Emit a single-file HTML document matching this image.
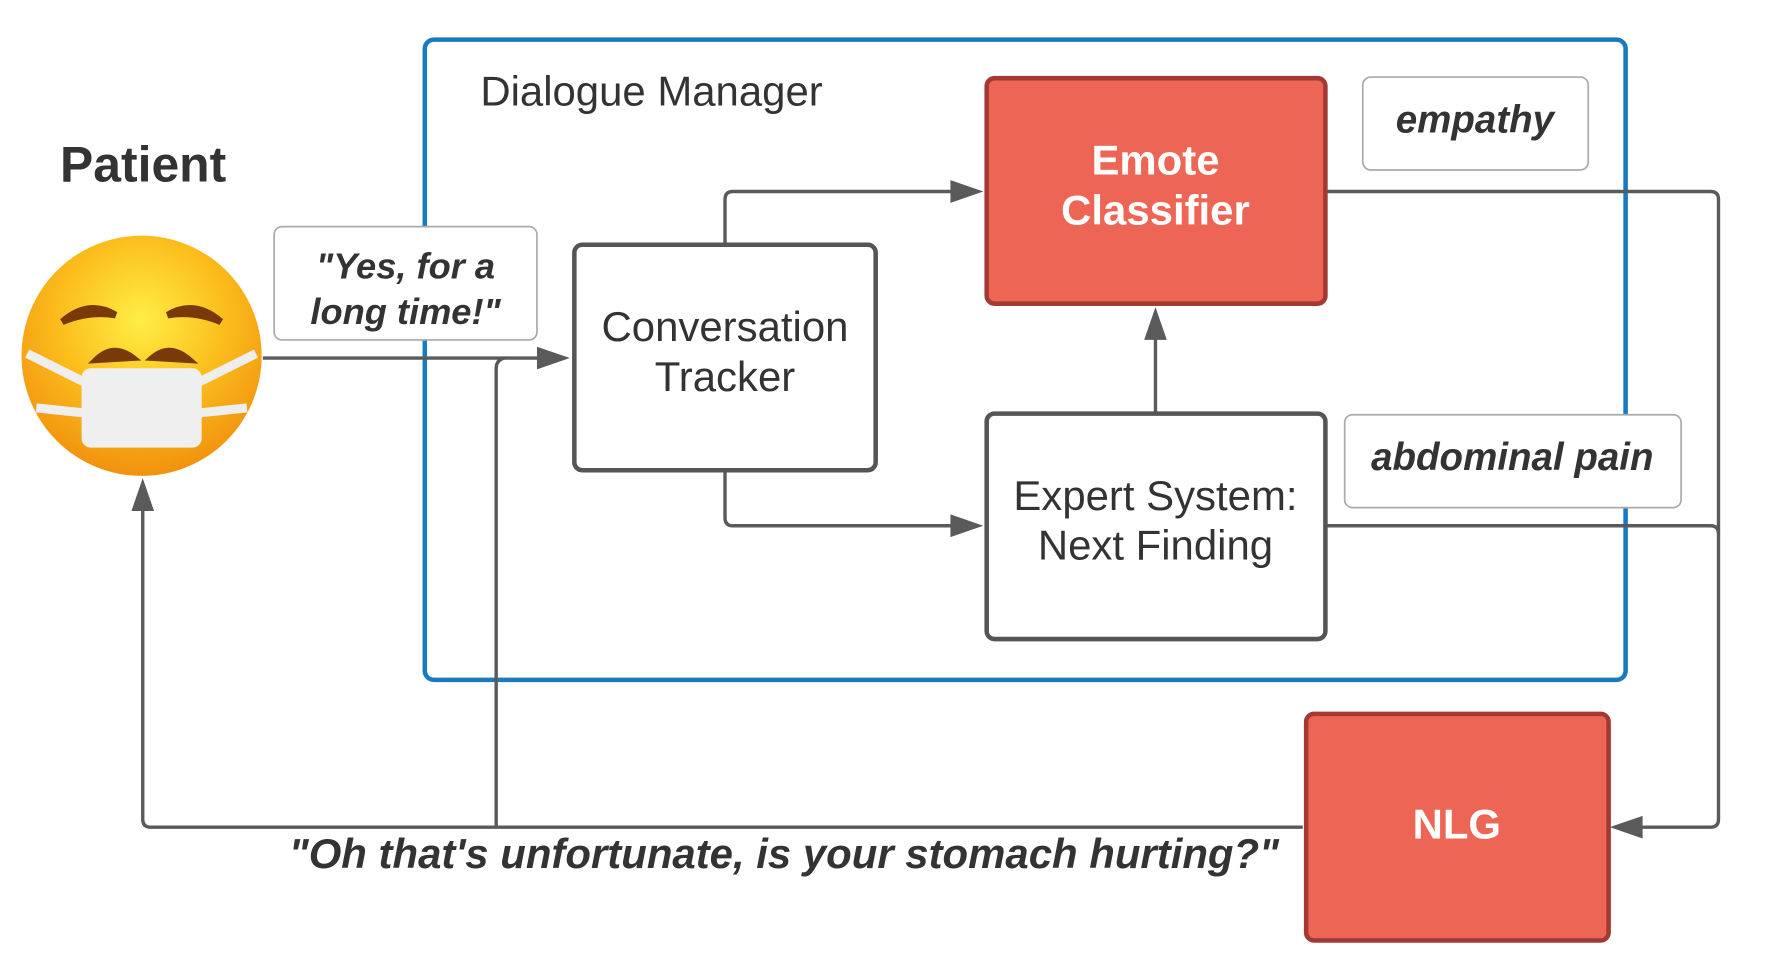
<!DOCTYPE html>
<html><head><meta charset="utf-8"><style>
html,body{margin:0;padding:0;background:#fff;}
svg{display:block;}
text{font-family:"Liberation Sans",sans-serif;}
</style></head><body>
<svg width="1774" height="979" viewBox="0 0 1566 864" preserveAspectRatio="none" xmlns="http://www.w3.org/2000/svg">
<defs>
<radialGradient id="fg" cx="0.5" cy="0.35" r="0.7">
<stop offset="0" stop-color="#ffee44"/><stop offset="0.5" stop-color="#fbbd1c"/><stop offset="1" stop-color="#f08a0c"/>
</radialGradient>
</defs>
<rect x="375" y="35" width="1060" height="565" rx="8" fill="none" stroke="#1a7abf" stroke-width="4"/>
<text x="424" y="93" font-size="37" fill="#333">Dialogue Manager</text>
<text x="53" y="160" font-size="44" font-weight="bold" fill="#333">Patient</text>

<g fill="none" stroke="#5a5a5a" stroke-width="3">
<path d="M232 316 H478"/>
<path d="M640 216 V176 Q640 169 647 169 H842"/>
<path d="M640 415 V457 Q640 464 647 464 H842"/>
<path d="M1020 365 V298"/>
<path d="M1170 169 H1510 Q1517 169 1517 176 V723 Q1517 730 1510 730 H1448"/>
<path d="M1170 464 H1510 Q1517 464 1517 471"/>
<path d="M1150 730 H133 Q126 730 126 723 V450"/>
<path d="M438 730 V325 Q438 318 445 316"/>
</g>
<g fill="#5a5a5a">
<polygon points="503,316 474,306 474,326"/>
<polygon points="868,169 839,159 839,179"/>
<polygon points="868,464 839,454 839,474"/>
<polygon points="1020,271 1010,300 1030,300"/>
<polygon points="1421,730 1450,720 1450,740"/>
<polygon points="126,422 116,451 136,451"/>
</g>

<rect x="242" y="200" width="232" height="100" rx="7" fill="#fff" stroke="#aaa" stroke-width="1.5"/>
<text x="358" y="246" font-size="32" font-weight="bold" font-style="italic" fill="#333" text-anchor="middle">"Yes, for a</text>
<text x="358" y="286" font-size="32" font-weight="bold" font-style="italic" fill="#333" text-anchor="middle">long time!"</text>

<rect x="507" y="216" width="266" height="199" rx="7" fill="#fff" stroke="#555" stroke-width="4"/>
<text x="640" y="301" font-size="37" fill="#333" text-anchor="middle">Conversation</text>
<text x="640" y="345" font-size="37" fill="#333" text-anchor="middle">Tracker</text>

<rect x="871" y="69" width="299" height="199" rx="7" fill="#ec6555" stroke="#a23a33" stroke-width="4"/>
<text x="1020" y="154" font-size="37" font-weight="bold" fill="#fff" text-anchor="middle">Emote</text>
<text x="1020" y="198" font-size="37" font-weight="bold" fill="#fff" text-anchor="middle">Classifier</text>

<rect x="1203" y="68" width="199" height="82" rx="7" fill="#fff" stroke="#aaa" stroke-width="1.5"/>
<text x="1302" y="117" font-size="34" font-weight="bold" font-style="italic" fill="#333" text-anchor="middle">empathy</text>

<rect x="871" y="365" width="299" height="199" rx="7" fill="#fff" stroke="#555" stroke-width="4"/>
<text x="1020" y="450" font-size="37" fill="#333" text-anchor="middle">Expert System:</text>
<text x="1020" y="494" font-size="37" fill="#333" text-anchor="middle">Next Finding</text>

<rect x="1187" y="366" width="297" height="82" rx="7" fill="#fff" stroke="#aaa" stroke-width="1.5"/>
<text x="1335" y="415" font-size="34" font-weight="bold" font-style="italic" fill="#333" text-anchor="middle">abdominal pain</text>

<rect x="1153" y="630" width="267" height="200" rx="7" fill="#ec6555" stroke="#a23a33" stroke-width="4"/>
<text x="1286" y="740" font-size="37" font-weight="bold" fill="#fff" text-anchor="middle">NLG</text>

<text x="692" y="766" font-size="37" font-weight="bold" font-style="italic" fill="#333" text-anchor="middle">"Oh that's unfortunate, is your stomach hurting?"</text>

<circle cx="125" cy="314" r="106" fill="url(#fg)"/>
<g fill="#7a3a08" stroke="#7a3a08" stroke-linecap="round">
<path d="M55 284 Q78 264 102 278 Q78 274 55 284Z" stroke-width="6"/>
<path d="M195 284 Q172 264 148 278 Q172 274 195 284Z" stroke-width="6"/>
<path d="M84 318 Q100 302 118 316Z" stroke-width="5"/>
<path d="M134 316 Q150 302 168 318Z" stroke-width="5"/>
</g>
<g stroke="#eee" stroke-width="8" fill="none">
<path d="M24 312 L80 340"/><path d="M226 312 L170 340"/>
<path d="M32 360 L80 365"/><path d="M218 360 L170 365"/>
</g>
<rect x="72" y="325" width="106" height="70" rx="8" fill="#efefef"/>
</svg>
</body></html>
